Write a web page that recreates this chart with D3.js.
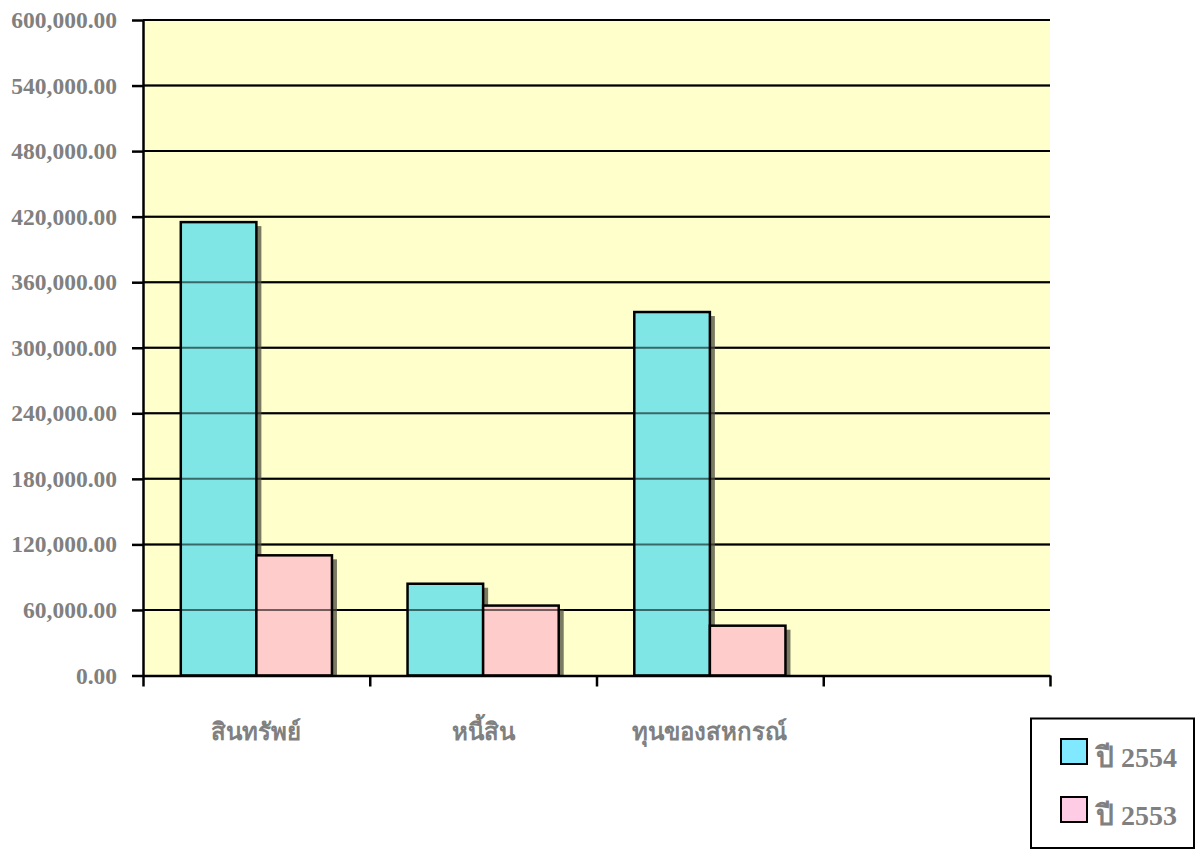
<!DOCTYPE html>
<html><head><meta charset="utf-8">
<script src="https://cdn.jsdelivr.net/npm/d3@7"></script>
<style>body{margin:0;background:#fff}svg{display:block}</style>
</head><body><svg id="c" width="1200" height="854"></svg>
<script>
const categories = ["สินทรัพย์", "หนี้สิน", "ทุนของสหกรณ์", ""];
const seriesNames = ["ปี 2554", "ปี 2553"];
const values2554 = [415000, 84000, 332700, null];
const values2553 = [110000, 64000, 45600, null];
const yTicks = [0, 60000, 120000, 180000, 240000, 300000, 360000, 420000, 480000, 540000, 600000];

const barColors = ["#80E5E5", "#FFCCCC"];
const legendColors = ["#80E8FF", "#FFCCE6"];
const serif = "'Liberation Serif','Times New Roman',serif";

const svg = d3.select("#c");
const L = 143, R = 1050, T = 20, B = 675.5;
const y = d3.scaleLinear().domain([0, 600000]).range([B, T]);
const x0 = d3.scaleBand().domain(categories.map((c,i)=>i)).range([L, R]).padding(0);
const x1 = d3.scaleBand().domain([0,1]).range([0, x0.bandwidth()]).paddingInner(0).paddingOuter(0.5);

svg.append("rect").attr("x", L).attr("y", T).attr("width", R - L).attr("height", B - T).attr("fill", "#FFFFCC");

// gridlines (under bars)
const grid = svg.append("g");
grid.selectAll("line").data(yTicks.filter(d=>d>0)).join("line")
  .attr("x1", L).attr("x2", R).attr("y1", d=>y(d)).attr("y2", d=>y(d))
  .attr("stroke", "#000").attr("stroke-width", 2);

const data = [];
categories.forEach((c,i)=>{
  [values2554[i], values2553[i]].forEach((v,s)=>{ if(v!=null) data.push({i, s, v}); });
});

// shadows
svg.append("g").selectAll("rect").data(data).join("rect")
  .attr("x", d=>x0(d.i)+x1(d.s)+5).attr("y", d=>y(d.v)+4)
  .attr("width", x1.bandwidth()).attr("height", d=>B - y(d.v) - 4)
  .attr("fill", "#7A7A62");

// bars
svg.append("g").selectAll("rect").data(data).join("rect")
  .attr("x", d=>x0(d.i)+x1(d.s)).attr("y", d=>y(d.v))
  .attr("width", x1.bandwidth()).attr("height", d=>B - y(d.v))
  .attr("fill", d=>barColors[d.s]).attr("stroke", "#000").attr("stroke-width", 2.5);

// gridlines over bars (translucent)
svg.append("g").selectAll("line").data(yTicks.filter(d=>d>0)).join("line")
  .attr("x1", L).attr("x2", R).attr("y1", d=>y(d)).attr("y2", d=>y(d))
  .attr("stroke", "#000").attr("stroke-opacity", 0.55).attr("stroke-width", 2);

// y axis
const yAxis = d3.axisLeft(y).tickValues(yTicks).tickSize(11).tickSizeOuter(0)
  .tickFormat(d=>d3.format(",.2f")(d));
const ga = svg.append("g").attr("transform", `translate(${L},0)`).call(yAxis);
ga.select(".domain").attr("stroke", "#000").attr("stroke-width", 2.5);
ga.selectAll(".tick line").attr("stroke", "#000").attr("stroke-width", 2.5);
ga.selectAll(".tick text").attr("x", -26).attr("dy", "0.32em")
  .attr("font-family", serif).attr("font-weight", "bold").attr("font-size", 23.5).attr("fill", "#808080");

// x axis
const xb = d3.scaleLinear().domain([0, 4]).range([L, R]);
const gx = svg.append("g").attr("transform", `translate(0,${B})`)
  .call(d3.axisBottom(xb).tickValues([0,1,2,3,4]).tickSize(11).tickSizeOuter(0).tickFormat(""));
gx.select(".domain").attr("stroke", "#000").attr("stroke-width", 2.5);
gx.selectAll(".tick line").attr("stroke", "#000").attr("stroke-width", 2.5);

svg.append("g").selectAll("text").data(categories.map((c,i)=>({c,i}))).join("text")
  .attr("x", d=>x0(d.i)+x0.bandwidth()/2).attr("y", 740)
  .attr("text-anchor", "middle").attr("font-family", serif).attr("font-weight", "bold")
  .attr("font-size", 24).attr("fill", "#808080").text(d=>d.c);

// legend
const lg = svg.append("g");
lg.append("rect").attr("x", 1031).attr("y", 718.5).attr("width", 163).attr("height", 129.5)
  .attr("fill", "#fff").attr("stroke", "#000").attr("stroke-width", 2);
seriesNames.forEach((n,k)=>{
  const yy = 739 + k*58;
  lg.append("rect").attr("x", 1061).attr("y", yy).attr("width", 26).attr("height", 25)
    .attr("fill", legendColors[k]).attr("stroke", "#000").attr("stroke-width", 2);
  lg.append("text").attr("x", 1096).attr("y", yy+28).attr("font-family", serif)
    .attr("font-weight", "bold").attr("font-size", 28).attr("fill", "#808080").text(n);
});
</script></body></html>
